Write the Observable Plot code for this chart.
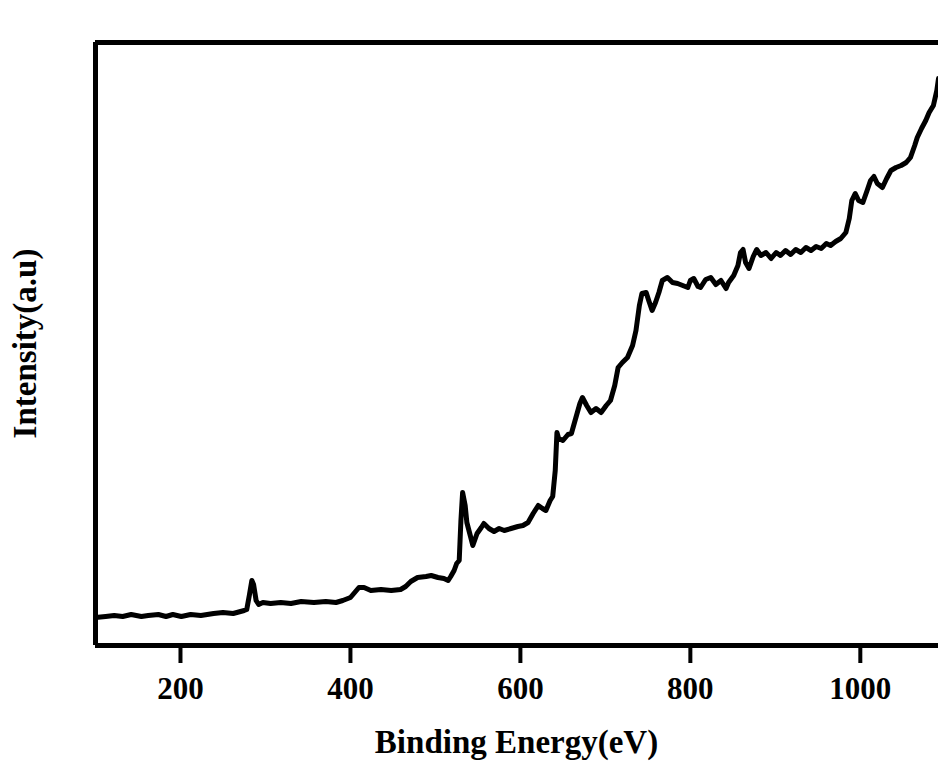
<!DOCTYPE html>
<html>
<head>
<meta charset="utf-8">
<script src="https://cdn.jsdelivr.net/npm/d3@7"></script>
<script src="https://cdn.jsdelivr.net/npm/@observablehq/plot@0.6"></script>
<style>
  html, body { margin: 0; padding: 0; background: #fff; }
  #chart svg { display: block; }
</style>
</head>
<body>
<div id="chart"></div>
<script>
// Binding energy (eV)
const energy = [100,112,122,132,142,154,162,174,183,191,201,212,224,239,250,262,275,278,281,284,286,289,292,297,306,318,330,342,357,371,383,391,400,405,410,416,424,436,448,459,465,471,479,489,495,503,510,515,518,522,525,528,530,532,535,537,541,544,549,554,557,563,569,575,581,589,597,603,609,615,621,626,630,635,638,641,643,645,650,656,660,665,670,673,678,683,689,695,701,706,711,715,720,726,732,736,740,743,748,751,755,759,763,767,773,779,785,791,797,800,804,809,812,818,824,830,836,842,845,851,856,859,862,865,869,874,878,883,889,895,901,906,912,918,924,930,936,942,948,954,960,965,971,977,983,987,990,994,998,1003,1008,1012,1016,1020,1026,1031,1036,1042,1048,1054,1059,1064,1067,1072,1077,1081,1086,1090,1092];
// Intensity (a.u.)
const intensity = [28,29,30,29,31,29,30,31,29,31,29,31,30,32,33,32,35,36,50,65,61,45,41,43,42,43,42,44,43,44,43,45,48,53,58,58,55,56,55,56,59,64,68,69,70,68,67,65,69,75,82,85,125,153,140,123,110,100,112,118,122,117,114,117,115,117,119,120,123,132,140,137,135,145,149,175,213,207,205,211,212,227,242,248,240,233,237,233,240,245,260,278,283,288,300,315,340,352,353,345,335,343,353,365,368,363,362,360,358,365,367,359,358,366,368,361,365,357,363,370,380,393,396,383,377,389,396,390,393,387,393,390,395,391,396,393,398,395,399,397,402,400,404,407,413,427,445,452,445,443,455,465,469,462,458,467,475,478,480,483,488,500,508,517,525,533,540,555,567];
const xTicks = [200, 400, 600, 800, 1000];
const xLabel = "Binding Energy(eV)";
const yLabel = "Intensity(a.u)";

const data = energy.map((e, i) => ({eV: e, I: intensity[i]}));
const font = "'Liberation Serif', 'DejaVu Serif', serif";

const W = 938, H = 766, mL = 95, mT = 42, mB = 121, mR = 0;

const plot = Plot.plot({
  width: W,
  height: H,
  marginLeft: mL,
  marginTop: mT,
  marginBottom: mB,
  marginRight: mR,
  style: {fontFamily: font, fontWeight: "bold", color: "black", background: "white"},
  x: {domain: [100, 1092]},
  y: {domain: [0, 603], axis: null},
  marks: [
    Plot.line(data, {x: "eV", y: "I", stroke: "black", strokeWidth: 5, strokeLinejoin: "round", clip: true}),
    Plot.ruleX([100], {stroke: "black", strokeWidth: 5}),
    Plot.ruleY([0, 603], {stroke: "black", strokeWidth: 5}),
    Plot.axisX({ticks: xTicks, tickSize: 18, tickPadding: 13, strokeWidth: 4, fontSize: 31, fontWeight: "bold", tickFormat: d => String(d), label: null})
  ]
});

const svg = d3.select(plot);
const cx = (mL + W - mR) / 2;
svg.append("text")
  .attr("x", cx).attr("y", 753)
  .attr("text-anchor", "middle")
  .style("font-family", font).style("font-weight", "bold").style("font-size", "33px")
  .attr("fill", "black")
  .text(xLabel);
svg.append("text")
  .attr("transform", `translate(36, ${(mT + H - mB) / 2}) rotate(-90)`)
  .attr("text-anchor", "middle")
  .style("font-family", font).style("font-weight", "bold").style("font-size", "33px")
  .attr("fill", "black")
  .text(yLabel);

document.getElementById("chart").appendChild(plot);
</script>
</body>
</html>
